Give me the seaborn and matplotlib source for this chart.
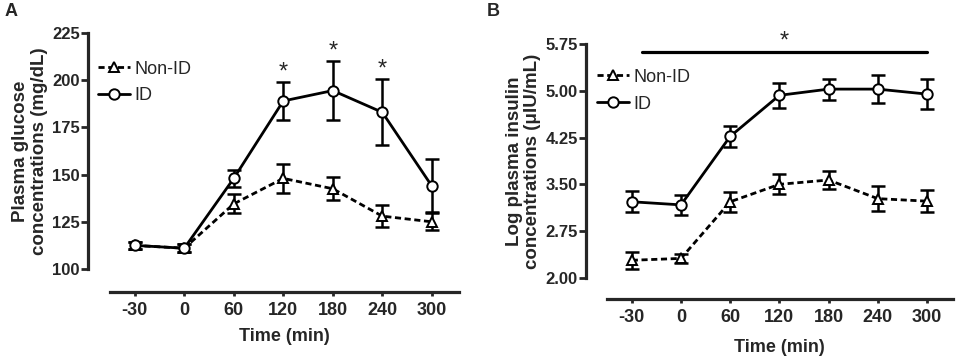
import numpy as np
import pandas as pd
import seaborn as sns
import matplotlib.pyplot as plt

sns.set_style('ticks')
plt.rcParams['font.family'] = ['Liberation Sans', 'DejaVu Sans']

# Data
time_labels = ['-30', '0', '60', '120', '180', '240', '300']

glucose_nonid = [112.5, 111, 134.5, 148, 142.5, 128, 125]
glucose_nonid_err = [2, 2, 5, 7.5, 6, 5.8, 4.5]
glucose_id = [112.5, 111, 148, 189, 194.5, 183, 144]
glucose_id_err = [2, 2, 4.5, 10, 15.5, 17.5, 14]
glucose_sig = ['120', '180', '240']

insulin_nonid = [2.28, 2.31, 3.22, 3.50, 3.57, 3.27, 3.23]
insulin_nonid_err = [0.14, 0.07, 0.16, 0.16, 0.14, 0.2, 0.18]
insulin_id = [3.22, 3.17, 4.27, 4.93, 5.03, 5.03, 4.95]
insulin_id_err = [0.17, 0.16, 0.17, 0.2, 0.17, 0.22, 0.24]

pos = np.arange(len(time_labels))

fig = plt.figure(figsize=(9.57, 3.57), dpi=100)
axA = fig.add_axes([110 / 957, 1 - 269 / 357, 349 / 957, 236 / 357])
axB = fig.add_axes([606.7 / 957, 1 - 277.7 / 357, 346.3 / 957, 233.4 / 357])


def draw_panel(ax, nonid, nonid_err, idv, id_err, off_left, off_bottom, leg_xy, xlab_pad):
    for vals, errs in [(nonid, nonid_err), (idv, id_err)]:
        ax.errorbar(pos, vals, yerr=errs, fmt='none', ecolor='black',
                    elinewidth=1.8, capsize=5, capthick=1.8, zorder=2)
    sns.lineplot(x=pos, y=nonid, ax=ax, color='black', lw=2,
                 linestyle=(0, (2.2, 1.3)), marker='^', markersize=7,
                 markerfacecolor='white', markeredgecolor='black',
                 markeredgewidth=1.4, label='Non-ID', zorder=3)
    sns.lineplot(x=pos, y=idv, ax=ax, color='black', lw=2,
                 marker='o', markersize=7.5,
                 markerfacecolor='white', markeredgecolor='black',
                 markeredgewidth=1.4, label='ID', zorder=4)
    ax.set_xticks(pos)
    ax.set_xticklabels(time_labels)
    for s in ['top', 'right']:
        ax.spines[s].set_visible(False)
    # offsets given in pixels, spines want points
    ax.spines['left'].set_position(('outward', off_left * 0.72))
    ax.spines['bottom'].set_position(('outward', off_bottom * 0.72))
    for s in ['left', 'bottom']:
        ax.spines[s].set_linewidth(2.3)
    ax.tick_params(axis='y', length=5, width=2, labelsize=12, pad=1)
    ax.tick_params(axis='x', length=3, width=2, labelsize=13, pad=4)
    for lab in ax.get_xticklabels() + ax.get_yticklabels():
        lab.set_fontweight('bold')
    ax.set_xlabel('Time (min)', fontsize=13, fontweight='bold', labelpad=xlab_pad)
    ax.legend(loc='upper left', bbox_to_anchor=leg_xy,
              frameon=False, fontsize=13, handlelength=1.75,
              handletextpad=0.25, labelspacing=0.54, borderaxespad=0)


draw_panel(axA, glucose_nonid, glucose_nonid_err, glucose_id, glucose_id_err,
           22, 23, (-0.055, 0.914), 6.5)
axA.set_xlim(-0.5, 6.55)
axA.set_ylim(100, 225)
axA.set_yticks([100, 125, 150, 175, 200, 225])
axA.set_yticklabels(['100', '125', '150', '175', '200', '225'], fontweight='bold')
axA.set_ylabel('Plasma glucose\nconcentrations (mg/dL)', fontsize=13.5,
               fontweight='bold', labelpad=3, linespacing=1.1)
for t in glucose_sig:
    i = time_labels.index(t)
    axA.annotate('*', xy=(i, glucose_id[i] + glucose_id_err[i]), xytext=(0, 7),
                 textcoords='offset points', ha='center', va='center',
                 fontsize=17, annotation_clip=False)

draw_panel(axB, insulin_nonid, insulin_nonid_err, insulin_id, insulin_id_err,
           20.7, 21.3, (-0.048, 0.926), 9.5)
axB.set_xlim(-0.51, 6.53)
axB.set_ylim(2.0, 5.75)
axB.set_yticks([2.0, 2.75, 3.5, 4.25, 5.0, 5.75])
axB.set_yticklabels(['2.00', '2.75', '3.50', '4.25', '5.00', '5.75'], fontweight='bold')
axB.set_ylabel('Log plasma insulin\nconcentrations (\u03bcIU/mL)', fontsize=13.5,
               fontweight='bold', labelpad=3, linespacing=1.08)
axB.plot([0.2, 6], [5.62, 5.62], color='black', lw=2.3, clip_on=False)
axB.annotate('*', xy=(3.1, 5.62), xytext=(0, 8), textcoords='offset points',
             ha='center', va='center', fontsize=17, annotation_clip=False)

fig.text(5 / 957, 1 - 3 / 357, 'A', fontsize=13, fontweight='bold', ha='left', va='top')
fig.text(487 / 957, 1 - 3 / 357, 'B', fontsize=13, fontweight='bold', ha='left', va='top')

fig.savefig('out.png', dpi=100, facecolor='white')
